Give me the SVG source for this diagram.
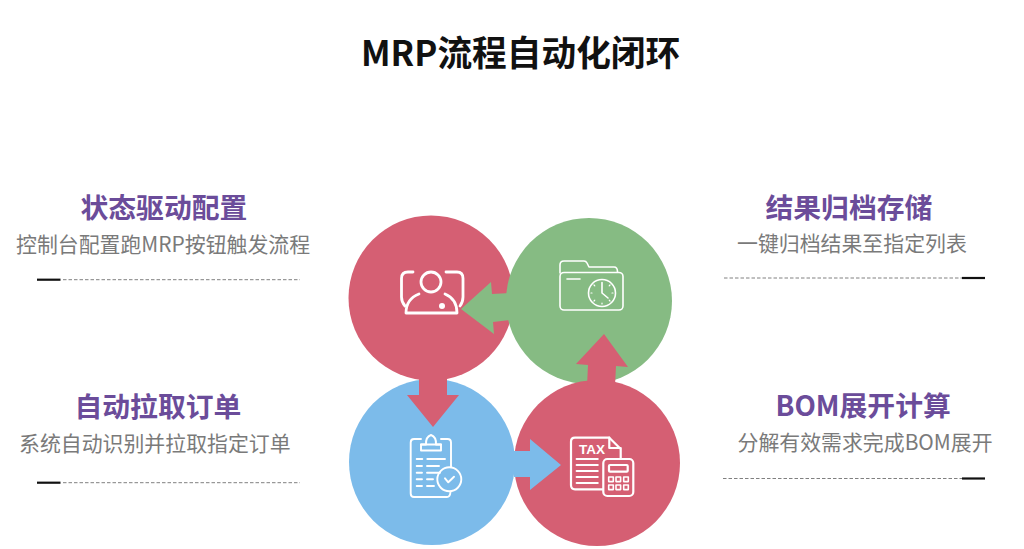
<svg xmlns="http://www.w3.org/2000/svg" width="1024" height="549" viewBox="0 0 1024 549">
<style>
text{font-family:"Noto Sans CJK SC","Noto Sans",sans-serif}
.title{font-size:34.7px;font-weight:700;fill:#111}
.head{font-size:27.8px;font-weight:700;fill:#6b4c9a}
.sub{font-size:20.9px;fill:#7a7a7a}
.solid{stroke:#111;stroke-width:2.2}
.dash{stroke:#808080;stroke-width:1;stroke-dasharray:3.500 2}
.ic{fill:none;stroke:#fff;stroke-linecap:round;stroke-linejoin:round}
.ic1{stroke-width:1.600}
.tax{font-family:"Liberation Sans",sans-serif;font-size:13.500px;font-weight:700;fill:#fff}
</style>
<rect width="1024" height="549" fill="#fff"/>
<text id="title" class="title" x="361" y="65.500">MRP流程自动化闭环</text>

<g id="label-config">
<text class="head" x="80.500" y="218">状态驱动配置</text>
<text class="sub" x="16" y="251.500">控制台配置跑MRP按钮触发流程</text>
<line class="solid" x1="37" y1="279.700" x2="60.500" y2="279.700"/>
<line class="dash" x1="63" y1="279.700" x2="300" y2="279.700"/>
</g>
<g id="label-archive">
<text class="head" x="765.500" y="218">结果归档存储</text>
<text class="sub" x="737" y="250.500">一键归档结果至指定列表</text>
<line class="dash" x1="724" y1="278" x2="962" y2="278"/>
<line class="solid" x1="962" y1="278" x2="985" y2="278"/>
</g>
<g id="label-orders">
<text class="head" x="74.500" y="417">自动拉取订单</text>
<text class="sub" x="19" y="450.500">系统自动识别并拉取指定订单</text>
<line class="solid" x1="37" y1="482.700" x2="60.500" y2="482.700"/>
<line class="dash" x1="63" y1="482.700" x2="300" y2="482.700"/>
</g>
<g id="label-bom">
<text class="head" x="775.500" y="416">BOM展开计算</text>
<text class="sub" x="737.500" y="449.500">分解有效需求完成BOM展开</text>
<line class="dash" x1="723" y1="478.500" x2="962" y2="478.500"/>
<line class="solid" x1="962" y1="478.500" x2="985" y2="478.500"/>
</g>

<g id="node-orders">
<circle cx="432" cy="462" r="83" fill="#7cbbea"/>
<g class="ic" stroke-width="1.900">
<path d="M421 439H414Q410.700 439 410.700 442.500V493.500Q410.700 497 414 497H447Q450 497 450.500 492"/>
<path d="M441 439H447.500Q451 439 451 442.500V467"/>
<path d="M421 450.500V444.500H426Q425.500 437 431 435Q436.500 437 436 444.500H441V450.500Z"/>
<path d="M421 444.500H441"/>
<path d="M416.700 459H422.300M427.300 459H445M416.700 466H422M427 466H439M416.700 472.700H422M427 472.700H440M416.700 479.300H422M427 479.300H433M416.700 486H422M427 486H434"/>
<circle cx="449.300" cy="479.300" r="12"/>
<path d="M445 478.300L448.300 482.300L454 476.700"/>
</g>
</g>
<g id="node-scan">
<circle cx="431" cy="298" r="82.500" fill="#d55f73"/>
<g class="ic" stroke-width="2.800">
<path d="M413 272H408Q401.500 272 401.500 278.500V297Q401.500 302 405 306"/>
<path d="M446 272H457Q463 272 463 278.500V297Q463 302 460 306"/>
<circle cx="431" cy="282" r="10"/>
<path d="M419 294Q406 299 406 313H457Q457 299 445 294"/>
</g>
<circle cx="442" cy="306" r="3" fill="#fff"/>
</g>
<g id="node-archive">
<circle cx="589" cy="301" r="83" fill="#86bb83"/>
<g class="ic ic1">
<path d="M560 273V265Q560 261 564 261H584Q586 261 587 263L589 267H614Q617.500 267 617.500 272"/>
<rect x="560" y="272.500" width="63" height="37.500" rx="4"/>
<path d="M567 279H580"/>
<circle cx="602" cy="293" r="13.500"/>
<path d="M602 282.500V293L608 298"/>
<path d="M592 293H591M613 293H612M602 303V304M594.800 285.800L594 285M609.200 285.800L610 285M594.800 300.200L594 301M609.200 300.200L610 301" stroke-width="1.200"/>
</g>
</g>
<g id="node-bom">
<circle cx="597" cy="463" r="83" fill="#d55f73"/>
<g class="ic" stroke-width="2.200">
<path d="M603 489.300H575Q571 489.300 571 485.300V441.700Q571 437.700 575 437.700H609.300L620.700 449V458"/>
<path d="M609.300 437.700V448H620.700"/>
<path d="M576.700 459H597.700M576.700 465H597.700M576.700 471H597.700M576.700 477H597.700M576.700 483H597.700"/>
<rect x="603.300" y="459" width="30" height="37" rx="4"/>
<rect x="609" y="465" width="18.700" height="6.700" rx="1"/>
</g>
<g class="ic" stroke-width="1.600">
<rect x="608.700" y="477" width="4.600" height="4.600"/>
<rect x="616" y="477" width="4.600" height="4.600"/>
<rect x="623.700" y="477" width="4.600" height="4.600"/>
<rect x="608.700" y="485" width="4.600" height="4.600"/>
<rect x="616" y="485" width="4.600" height="4.600"/>
<rect x="623.700" y="485" width="4.600" height="4.600"/>
</g>
<text class="tax" x="579" y="454">TAX</text>
</g>

<g id="connectors">
<polygon fill="#86bb83" points="461,309 491,282 492,294 510,293 510,320 493,322 494,334"/>
<polygon fill="#d55f73" points="604,334 628,367 616,366 615,386 587,386 588,365 576,364"/>
<polygon fill="#d55f73" points="419,375 447,375 447,395 459,395 433,427 407,395 419,395"/>
<polygon fill="#7cbbea" points="514,451 530,451 530,439 561,465 530,490 530,477 514,477"/>
</g>
</svg>
